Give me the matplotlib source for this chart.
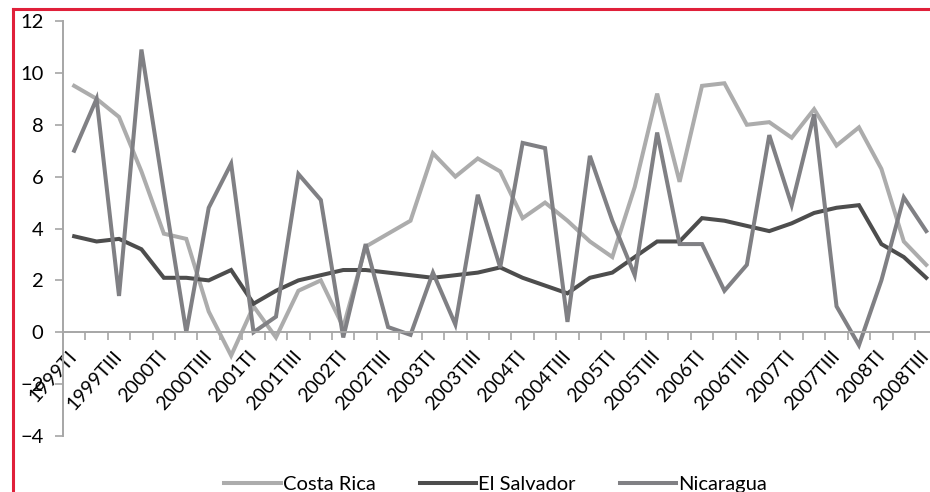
import numpy as np
import matplotlib.pyplot as plt
from matplotlib.lines import Line2D

plt.rcParams['font.family'] = ['Lato', 'DejaVu Sans']

# quarters 1999TI .. 2008TIII
years = list(range(1999, 2009))
quarters = ['TI', 'TII', 'TIII', 'TIV']
periods = [f'{y}{q}' for y in years for q in quarters][:39]

costa_rica = [9.5, 9.0, 8.3, 6.2, 3.8, 3.6, 0.8, -0.9, 1.0, -0.2,
              1.6, 2.0, 0.2, 3.3, 3.8, 4.3, 6.9, 6.0, 6.7, 6.2,
              4.4, 5.0, 4.3, 3.5, 2.9, 5.6, 9.2, 5.8, 9.5, 9.6,
              8.0, 8.1, 7.5, 8.6, 7.2, 7.9, 6.3, 3.5, 2.6]
el_salvador = [3.7, 3.5, 3.6, 3.2, 2.1, 2.1, 2.0, 2.4, 1.1, 1.6,
               2.0, 2.2, 2.4, 2.4, 2.3, 2.2, 2.1, 2.2, 2.3, 2.5,
               2.1, 1.8, 1.5, 2.1, 2.3, 2.9, 3.5, 3.5, 4.4, 4.3,
               4.1, 3.9, 4.2, 4.6, 4.8, 4.9, 3.4, 2.9, 2.1]
nicaragua = [7.0, 9.0, 1.4, 10.9, 5.4, 0.0, 4.8, 6.5, 0.0, 0.6,
             6.1, 5.1, -0.2, 3.4, 0.2, -0.1, 2.3, 0.3, 5.3, 2.5,
             7.3, 7.1, 0.4, 6.8, 4.3, 2.2, 7.7, 3.4, 3.4, 1.6,
             2.6, 7.6, 4.9, 8.4, 1.0, -0.5, 2.0, 5.2, 3.9]

fig = plt.figure(figsize=(9.3, 4.92), dpi=100)
ax = fig.add_axes([0.0677, 0.1138, 0.9403, 0.8435])

x = np.arange(len(periods))
ax.plot(x, costa_rica, color='#acacac', lw=2.9, label='Costa Rica', solid_joinstyle='miter')
ax.plot(x, el_salvador, color='#4d4d4d', lw=2.9, label='El Salvador', solid_joinstyle='miter')
ax.plot(x, nicaragua, color='#808084', lw=2.9, label='Nicaragua', solid_joinstyle='miter')

ax.set_xlim(-0.5, len(periods) - 0.5)
ax.set_ylim(-4, 12)
ax.set_yticks(range(-4, 13, 2))
ax.tick_params(axis='y', labelsize=14.5, length=6, width=1.2, color='#a6a6a6', pad=8)

axis_col = '#a6a6a6'
ax.spines['top'].set_visible(False)
ax.spines['right'].set_visible(False)
ax.spines['left'].set_color(axis_col)
ax.spines['left'].set_linewidth(1.4)
ax.spines['bottom'].set_position(('data', 0))
ax.spines['bottom'].set_color(axis_col)
ax.spines['bottom'].set_linewidth(1.4)

# tick marks between categories, labels every second quarter
ax.set_xticks(np.arange(-0.5, len(periods), 1.0))
ax.set_xticklabels([])
ax.tick_params(axis='x', which='major', length=6, width=1.2, color=axis_col)
ax.set_xticks(x[::2], minor=True)
ax.set_xticklabels(periods[::2], minor=True, rotation=48, ha='right', va='center',
                   rotation_mode='anchor', fontsize=14)
ax.tick_params(axis='x', which='minor', length=0, pad=15)

fig.legend(loc='center', bbox_to_anchor=(0.533, 0.015), ncol=3, frameon=False,
           fontsize=14.5, handlelength=2.8, handletextpad=0.1, columnspacing=2.2)

# red frame edges
fig.add_artist(Line2D([0.0135, 0.0135], [0, 0.981], color='#e0203a', lw=2.2))
fig.add_artist(Line2D([0.0135, 1], [0.981, 0.981], color='#e0203a', lw=2.2))

fig.savefig('out.png', dpi=100)
